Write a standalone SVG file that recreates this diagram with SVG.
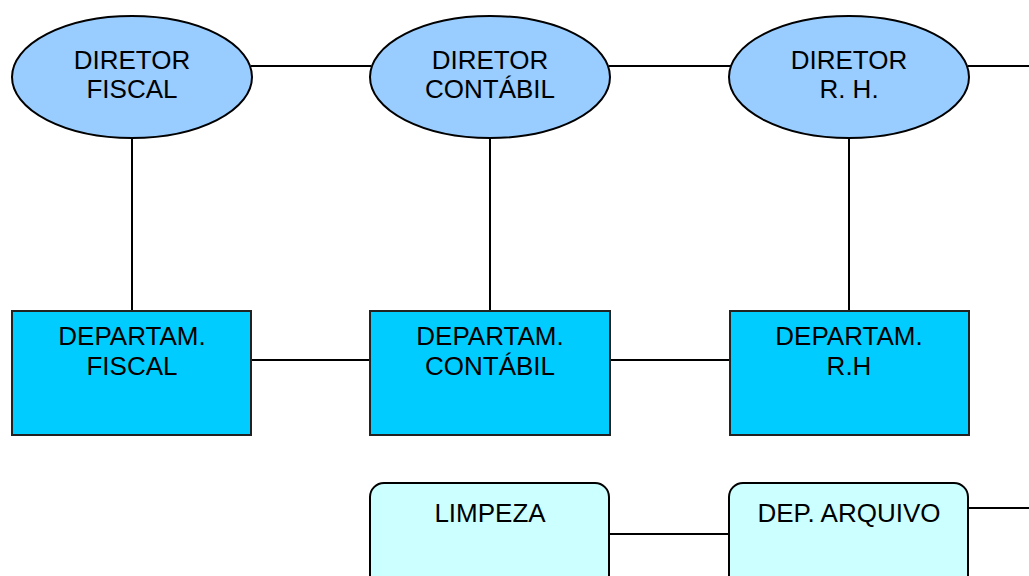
<svg xmlns="http://www.w3.org/2000/svg" width="1029" height="576" viewBox="0 0 1029 576">
<style>
.dir{fill:#99CCFF;stroke:#000;stroke-width:2}
.dep{fill:#00CCFF;stroke:#222;stroke-width:2}
.sub{fill:#CCFFFF;stroke:#000;stroke-width:2}
.ln{stroke:#000;stroke-width:2;fill:none}
text{font-family:"Liberation Sans",Arial,sans-serif;font-size:26px;fill:#000;text-anchor:middle}
</style>
<rect width="1029" height="576" fill="#fff"/>
<g id="connectors">
<line class="ln" x1="251" y1="66" x2="371" y2="66"/>
<line class="ln" x1="609" y1="66" x2="731" y2="66"/>
<line class="ln" x1="968" y1="66" x2="1029" y2="66"/>
<line class="ln" x1="132" y1="138" x2="132" y2="311"/>
<line class="ln" x1="490" y1="138" x2="490" y2="311"/>
<line class="ln" x1="849" y1="138" x2="849" y2="311"/>
<line class="ln" x1="251" y1="360" x2="370" y2="360"/>
<line class="ln" x1="610" y1="360" x2="730" y2="360"/>
<line class="ln" x1="609" y1="534" x2="730" y2="534"/>
<line class="ln" x1="968" y1="508" x2="1029" y2="508"/>
</g>
<g id="diretor-fiscal">
<ellipse class="dir" cx="132" cy="77" rx="120" ry="61"/>
<text x="132" y="69">DIRETOR</text>
<text x="132" y="98">FISCAL</text>
</g>
<g id="diretor-contabil">
<ellipse class="dir" cx="490" cy="77" rx="120" ry="61"/>
<text x="490" y="69">DIRETOR</text>
<text x="490" y="98">CONTÁBIL</text>
</g>
<g id="diretor-rh">
<ellipse class="dir" cx="849" cy="77" rx="120" ry="61"/>
<text x="849" y="69">DIRETOR</text>
<text x="849" y="98">R. H.</text>
</g>
<g id="departam-fiscal">
<rect class="dep" x="12" y="311" width="239" height="124"/>
<text x="132" y="345">DEPARTAM.</text>
<text x="132" y="375">FISCAL</text>
</g>
<g id="departam-contabil">
<rect class="dep" x="370" y="311" width="240" height="124"/>
<text x="490" y="345">DEPARTAM.</text>
<text x="490" y="375">CONTÁBIL</text>
</g>
<g id="departam-rh">
<rect class="dep" x="730" y="311" width="239" height="124"/>
<text x="849" y="345">DEPARTAM.</text>
<text x="849" y="375">R.H</text>
</g>
<g id="limpeza">
<rect class="sub" x="370" y="483" width="239" height="120" rx="14" ry="14"/>
<text x="490" y="522">LIMPEZA</text>
</g>
<g id="dep-arquivo">
<rect class="sub" x="729" y="483" width="239" height="120" rx="14" ry="14"/>
<text x="849" y="522">DEP. ARQUIVO</text>
</g>
</svg>
